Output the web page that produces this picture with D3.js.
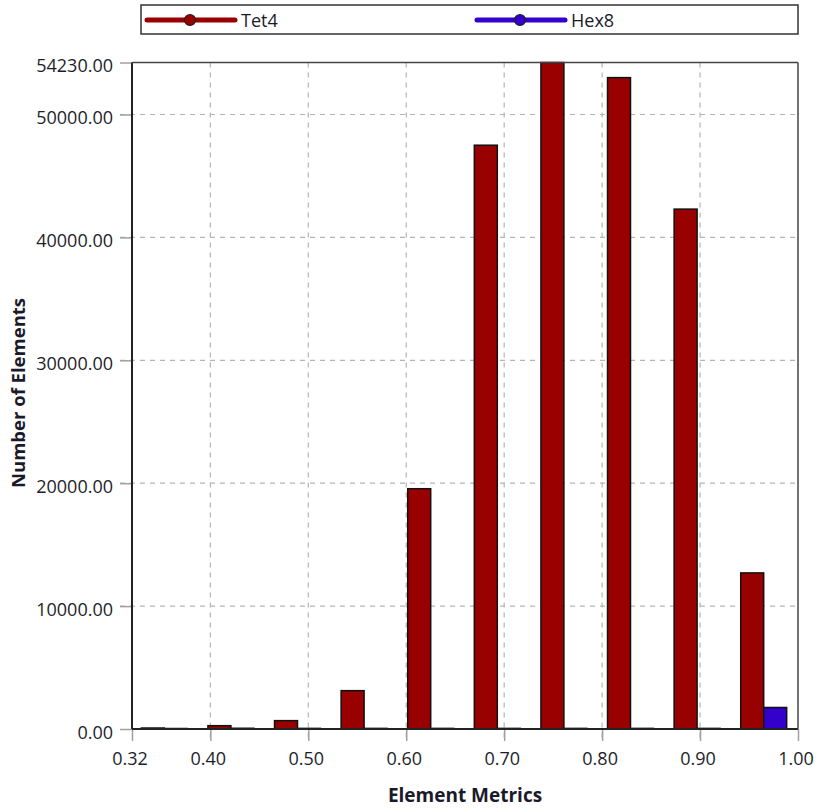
<!DOCTYPE html>
<html>
<head>
<meta charset="utf-8">
<script src="https://cdn.jsdelivr.net/npm/d3@7"></script>
<style>
  html, body { margin: 0; padding: 0; background: #fff; }
  svg { display: block; }
  text { font-family: "Open Sans", "Noto Sans", sans-serif; }
</style>
</head>
<body>
<svg id="chart" width="821" height="812"></svg>
<script>
// ---- data ----
const binStarts = [0.32, 0.388, 0.456, 0.524, 0.592, 0.66, 0.728, 0.796, 0.864, 0.932];
const binWidth = 0.068;
const tet4Values = [80, 270, 680, 3120, 19550, 47500, 54230, 53000, 42300, 12700];
const hex8Values = [40, 60, 50, 50, 50, 50, 50, 50, 50, 1750];
const seriesNames = ["Tet4", "Hex8"];
const seriesColors = ["#990000", "#3300cc"];
const xTicks = [0.32, 0.40, 0.50, 0.60, 0.70, 0.80, 0.90, 1.00];
const yTicks = [0, 10000, 20000, 30000, 40000, 50000, 54230];
const xTitle = "Element Metrics";
const yTitle = "Number of Elements";

// ---- layout ----
const svg = d3.select("#chart");
const pL = 132, pR = 798, pT = 62.5, pB = 729;
const x = d3.scaleLinear().domain([0.32, 1.00]).range([pL, pR]);
const y = d3.scaleLinear().domain([0, 54230]).range([pB, pT]);
const fontSize = 18;

// gridlines
const grid = svg.append("g");
grid.selectAll("line.vg").data(xTicks.filter(t => t > 0.32 && t < 1.0)).join("line")
  .attr("x1", d => x(d)).attr("x2", d => x(d))
  .attr("y1", pT).attr("y2", pB + 12)
  .attr("stroke", "#b4b4b4").attr("stroke-width", 1.2).attr("stroke-dasharray", "5,5");
grid.selectAll("line.hg").data(yTicks.filter(t => t > 0 && t < 54230)).join("line")
  .attr("x1", pL - 12).attr("x2", pR)
  .attr("y1", d => y(d)).attr("y2", d => y(d))
  .attr("stroke", "#b4b4b4").attr("stroke-width", 1.2).attr("stroke-dasharray", "5,5");

// bars
const bw = x(binStarts[0] + binWidth) - x(binStarts[0]);
const offs = [0.14, 0.485];
const barW = 0.345;
[tet4Values, hex8Values].forEach((vals, si) => {
  svg.append("g").selectAll("rect").data(vals).join("rect")
    .attr("x", (d, i) => x(binStarts[i]) + bw * offs[si])
    .attr("width", bw * barW)
    .attr("y", d => y(d))
    .attr("height", d => Math.max(0.5, y(0) - y(d)))
    .attr("fill", seriesColors[si])
    .attr("stroke", "#111").attr("stroke-width", 1.5);
});

// axes
const yAxis = d3.axisLeft(y).tickValues(yTicks).tickFormat(d3.format(".2f")).tickSize(12).tickPadding(7);
const gy = svg.append("g").attr("transform", `translate(${pL},0)`).call(yAxis);
const xAxis = d3.axisBottom(x).tickValues(xTicks).tickFormat(d3.format(".2f")).tickSize(12).tickPadding(11);
const gx = svg.append("g").attr("transform", `translate(0,${pB})`).call(xAxis);
[gx, gy].forEach(g => {
  g.select(".domain").remove();
  g.selectAll(".tick line").attr("stroke", "#a0a0a0").attr("stroke-width", 1.5);
  g.selectAll(".tick text").attr("fill", "#1e1e2a").style("font-size", fontSize + "px")
    .style("font-family", "'Open Sans', 'Noto Sans', sans-serif");
});
gy.selectAll(".tick text").attr("dy", "0.5em");
gx.selectAll(".tick text").attr("dx", "-2.5");

// frame
svg.append("line").attr("x1", pL).attr("x2", pL).attr("y1", pT).attr("y2", pB)
  .attr("stroke", "#222").attr("stroke-width", 2);
svg.append("line").attr("x1", pL).attr("x2", pR).attr("y1", pB).attr("y2", pB)
  .attr("stroke", "#222").attr("stroke-width", 2);
svg.append("line").attr("x1", pL).attr("x2", pR).attr("y1", pT).attr("y2", pT)
  .attr("stroke", "#444").attr("stroke-width", 1.5);
svg.append("line").attr("x1", pR).attr("x2", pR).attr("y1", pT).attr("y2", pB)
  .attr("stroke", "#444").attr("stroke-width", 1.5);

// titles
svg.append("text").attr("x", 465).attr("y", 802)
  .attr("text-anchor", "middle").attr("font-weight", "bold").style("font-size", "19px")
  .attr("fill", "#1a1a2a").text(xTitle);
svg.append("text").attr("transform", `translate(25,393) rotate(-90)`)
  .attr("text-anchor", "middle").attr("font-weight", "bold").style("font-size", "18.5px")
  .attr("fill", "#1a1a2a").text(yTitle);

// legend
svg.append("rect").attr("x", 141).attr("y", 5).attr("width", 657).attr("height", 29)
  .attr("fill", "#fff").attr("stroke", "#333").attr("stroke-width", 1.5);
const legX = [147, 477];
seriesNames.forEach((name, i) => {
  const g = svg.append("g").attr("transform", `translate(${legX[i]},20)`);
  g.append("line").attr("x1", 0).attr("x2", 88).attr("y1", 0).attr("y2", 0)
    .attr("stroke", seriesColors[i]).attr("stroke-width", 5).attr("stroke-linecap", "round");
  g.append("circle").attr("cx", 43).attr("cy", 0).attr("r", 5.5)
    .attr("fill", seriesColors[i]).attr("stroke", "#222").attr("stroke-width", 1.2);
  g.append("text").attr("x", 94).attr("y", 6.5).style("font-size", fontSize + "px")
    .attr("fill", "#1a1a2a").text(name);
});
</script>
</body>
</html>
